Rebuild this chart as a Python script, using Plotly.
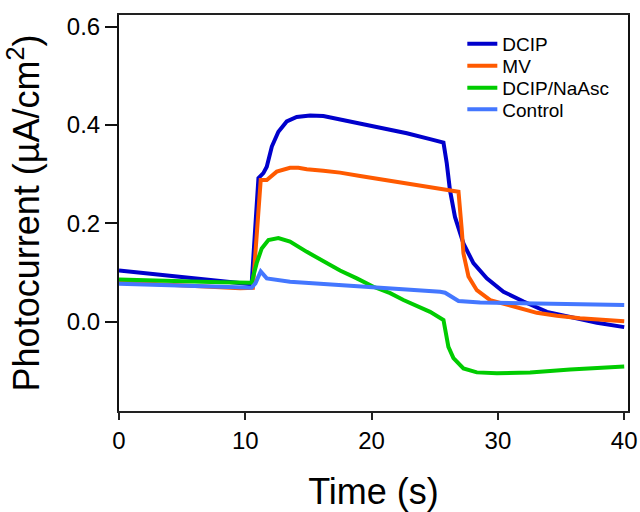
import plotly.graph_objects as go

# ---- data ----
dcip_t = [0, 2, 4, 6, 8, 10, 10.5, 11.04, 11.43, 11.7, 12.1, 12.62, 13.28, 14.07, 15.13, 16.18,
          17.5, 20.14, 22.79, 24.63, 25.69, 25.95, 26.2, 26.6, 27.27, 28.06, 29.12, 30.44,
          32.03, 33.88, 35.72, 37.84, 40]
dcip_y = [0.104, 0.099, 0.093, 0.088, 0.082, 0.078, 0.076, 0.292, 0.302, 0.315, 0.356, 0.386,
          0.407, 0.416, 0.419, 0.418, 0.411, 0.398, 0.383, 0.371, 0.364, 0.322, 0.268, 0.213,
          0.159, 0.119, 0.088, 0.061, 0.041, 0.020, 0.009, -0.002, -0.011]

mv_t = [0, 2, 4, 6, 8, 9.6, 10.6, 11.22, 11.7, 12.49, 13.54, 14.2, 14.87, 16.18, 17.5, 19.09,
        21.47, 24.63, 25.69, 26.88, 27.14, 27.27, 27.67, 28.33, 29.39, 31.23, 33.08, 34.67,
        36.5, 40]
mv_y = [0.080, 0.078, 0.076, 0.073, 0.070, 0.068, 0.069, 0.288, 0.288, 0.305, 0.313, 0.313,
        0.310, 0.307, 0.303, 0.296, 0.286, 0.274, 0.269, 0.264, 0.186, 0.139, 0.092, 0.064,
        0.044, 0.031, 0.018, 0.012, 0.007, 0.001]

nasc_t = [0, 2, 4, 6, 8, 10.5, 10.9, 11.3, 11.83, 12.62, 13.54, 14.87, 16.18, 17.5, 18.83,
          20.14, 21.47, 22.52, 24.63, 25.69, 26.08, 26.48, 27.27, 28.33, 29.92, 32.55, 35.72, 40]
nasc_y = [0.086, 0.084, 0.082, 0.081, 0.080, 0.079, 0.119, 0.149, 0.166, 0.170, 0.163, 0.142,
          0.122, 0.104, 0.088, 0.071, 0.058, 0.044, 0.020, 0.0035, -0.051, -0.074, -0.095,
          -0.103, -0.105, -0.103, -0.097, -0.091]

ctrl_t = [0, 2, 4, 6, 8, 10.5, 10.8, 11.22, 11.7, 13.54, 17.5, 21.47, 25.43, 25.82, 26.88,
          28.59, 34, 40]
ctrl_y = [0.077, 0.076, 0.074, 0.073, 0.071, 0.069, 0.078, 0.102, 0.088, 0.081, 0.075, 0.068,
          0.061, 0.059, 0.042, 0.039, 0.036, 0.034]

series = [
    ("DCIP", dcip_t, dcip_y, "#0000CC"),
    ("MV", mv_t, mv_y, "#FF5A00"),
    ("DCIP/NaAsc", nasc_t, nasc_y, "#00CC00"),
    ("Control", ctrl_t, ctrl_y, "#4477FF"),
]

x_ticks = [0, 10, 20, 30, 40]
y_ticks = [0.0, 0.2, 0.4, 0.6]

font_family = "Liberation Sans, Arial, sans-serif"
legend_ids = ["legend", "legend2", "legend3", "legend4"]
legend_tops = [0.9753, 0.9197, 0.8641, 0.8098]

fig = go.Figure()
for (name, t, y, c), lid in zip(series, legend_ids):
    fig.add_trace(go.Scatter(x=t, y=y, mode="lines", name=name, legend=lid,
                             line=dict(color=c, width=4)))

legend_common = dict(x=0.6745, xanchor="left", yanchor="top",
                     bgcolor="rgba(0,0,0,0)", font=dict(size=19, family=font_family))
layout_legends = {lid: dict(y=yt, **legend_common) for lid, yt in zip(legend_ids, legend_tops)}

fig.update_layout(
    width=640, height=512,
    margin=dict(l=119, r=12, t=15, b=101),
    plot_bgcolor="white", paper_bgcolor="white",
    font=dict(family=font_family, color="black"),
    showlegend=True,
    **layout_legends,
)
fig.update_xaxes(
    range=[0, 40.3], tickvals=x_ticks, ticktext=[str(v) for v in x_ticks],
    showgrid=False, zeroline=False, showline=True, linecolor="#222", linewidth=2,
    mirror=True, ticks="outside", ticklen=7, tickwidth=1.5, tickcolor="#222",
    tickfont=dict(size=24), automargin=False,
    title=dict(text="Time (s)", font=dict(size=36), standoff=27),
)
fig.update_yaxes(
    range=[-0.1815, 0.6234], tickvals=y_ticks, ticktext=["0.0", "0.2", "0.4", "0.6"],
    showgrid=False, zeroline=False, showline=True, linecolor="#111", linewidth=2,
    mirror=True, ticks="outside", ticklen=12, tickwidth=1.5, tickcolor="#111",
    tickfont=dict(size=24), automargin=False,
    title=dict(text="Photocurrent (µA/cm<sup>2</sup>)", font=dict(size=36), standoff=16),
)

fig.write_html("out.html")
